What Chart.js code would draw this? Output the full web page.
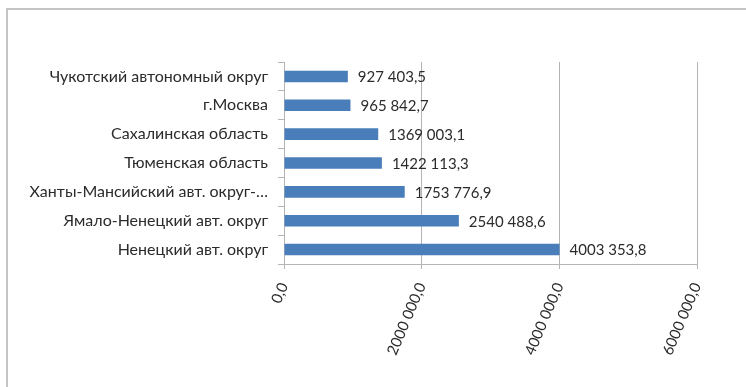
<!DOCTYPE html>
<html>
<head>
<meta charset="utf-8">
<script src="https://cdn.jsdelivr.net/npm/chart.js@4.4.1/dist/chart.umd.min.js"></script>
<style>
  html, body { margin: 0; padding: 0; background: #fff; }
  #wrap { position: relative; width: 746px; height: 387px; overflow: hidden; }
  #frame { position: absolute; left: 6px; top: 8px; width: 800px; height: 400px; border: 2px solid #c4c4c4; }
  #chart { position: absolute; left: 0; top: 0; }
</style>
</head>
<body>
<div id="wrap">
  <div id="frame"></div>
  <canvas id="chart" width="746" height="387"></canvas>
</div>
<script>
// regions, top to bottom as in the picture
const regions = [
  'Чукотский автономный округ',
  'г.Москва',
  'Сахалинская область',
  'Тюменская область',
  'Ханты-Мансийский авт. округ-…',
  'Ямало-Ненецкий авт. округ',
  'Ненецкий авт. округ'
];
const values = [927403.5, 965842.7, 1369003.1, 1422113.3, 1753776.9, 2540488.6, 4003353.8];
const xTicks = [0, 2000000, 4000000, 6000000];

const FONT = 'Lato';
const TEXT = '#2b2b2b';
const GRID = '#b4b4b4';

// Excel shows only the last thousands group split off: "4003 353,8"
function fmt(v) {
  const n = Math.round(v * 10) / 10;
  const whole = Math.floor(n);
  const dec = Math.round((n - whole) * 10);
  let s;
  if (whole >= 1000) {
    s = Math.floor(whole / 1000) + ' ' + String(whole % 1000).padStart(3, '0');
  } else {
    s = String(whole);
  }
  return s + ',' + dec;
}

const valueLabels = {
  id: 'valueLabels',
  afterDatasetsDraw(chart) {
    const ctx = chart.ctx;
    const meta = chart.getDatasetMeta(0);
    ctx.save();
    ctx.font = '15px ' + FONT;
    ctx.fillStyle = TEXT;
    ctx.textAlign = 'left';
    ctx.textBaseline = 'middle';
    meta.data.forEach((bar, i) => {
      ctx.fillText(fmt(values[i]), bar.x + 10, bar.y + 1);
    });
    ctx.restore();
  }
};

new Chart(document.getElementById('chart'), {
  type: 'bar',
  data: {
    labels: regions,
    datasets: [{
      data: values,
      backgroundColor: '#4a7ebb',
      borderWidth: 0,
      categoryPercentage: 1,
      barPercentage: 0.4
    }]
  },
  options: {
    indexAxis: 'y',
    responsive: false,
    animation: false,
    devicePixelRatio: 1,
    layout: { padding: { top: 62, right: 49, left: 0, bottom: 0 } },
    plugins: {
      legend: { display: false },
      tooltip: { enabled: false }
    },
    scales: {
      x: {
        min: 0,
        max: 6000000,
        afterBuildTicks(scale) {
          scale.ticks = xTicks.map(v => ({ value: v }));
        },
        afterFit(scale) { scale.height = 123; },
        grid: { color: GRID, tickLength: 5 },
        border: { color: GRID },
        ticks: {
          minRotation: 67,
          maxRotation: 67,
          padding: 11,
          color: TEXT,
          font: { family: FONT, size: 15 },
          callback: v => fmt(v)
        }
      },
      y: {
        afterFit(scale) { scale.width = 284; },
        grid: { drawOnChartArea: false, color: GRID, tickLength: 6, offset: true },
        border: { color: GRID },
        ticks: {
          padding: 10,
          color: TEXT,
          font: { family: FONT, size: 16 }
        }
      }
    }
  },
  plugins: [valueLabels]
});
</script>
</body>
</html>
